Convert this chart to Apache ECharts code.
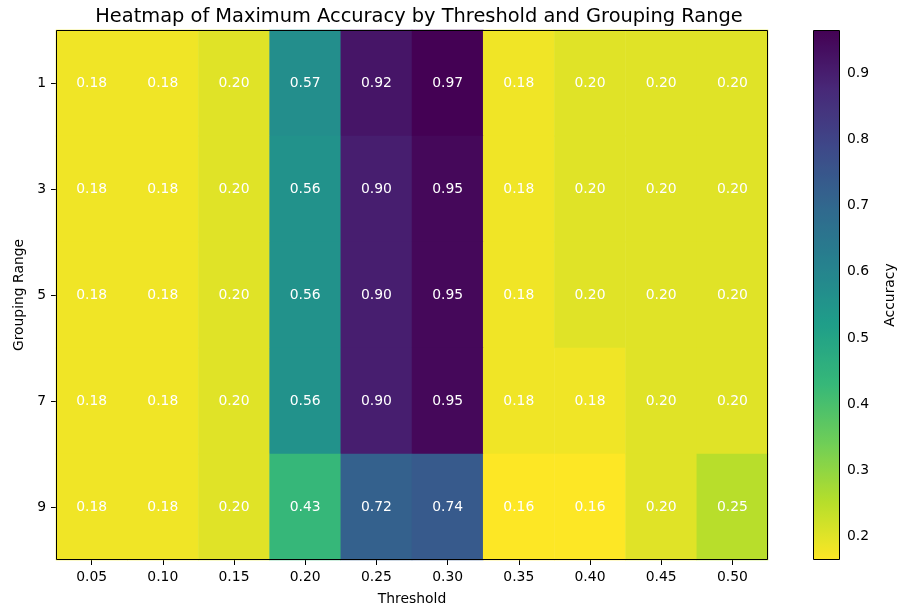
<!DOCTYPE html>
<html>
<head>
<meta charset="utf-8">
<script src="https://cdn.jsdelivr.net/npm/echarts@6/dist/echarts.min.js"></script>
<style>html,body{margin:0;padding:0;background:#fff}#c{width:898px;height:613px}</style>
</head>
<body>
<div id="c"></div>
<script>
const thresholds = ['0.05','0.10','0.15','0.20','0.25','0.30','0.35','0.40','0.45','0.50'];
const groupingRanges = ['1','3','5','7','9'];
const row1 = [0.18,0.18,0.20,0.57,0.92,0.966,0.18,0.20,0.20,0.20];
const row3 = [0.18,0.18,0.20,0.56,0.90,0.95,0.18,0.20,0.20,0.20];
const row5 = [0.18,0.18,0.20,0.56,0.90,0.95,0.18,0.20,0.20,0.20];
const row7 = [0.18,0.18,0.20,0.56,0.90,0.95,0.18,0.18,0.20,0.20];
const row9 = [0.18,0.18,0.20,0.43,0.72,0.74,0.164,0.164,0.20,0.25];
const colorbarTicks = [0.2,0.3,0.4,0.5,0.6,0.7,0.8,0.9];
const vmin = 0.164, vmax = 0.966;

const rows = [row1,row3,row5,row7,row9];
const data = [];
rows.forEach((r, yi) => r.forEach((v, xi) => data.push([xi, yi, v])));

const viridisR = ['#fde725','#b5de2b','#6ece58','#35b779','#1f9e89','#26828e','#31688e','#3e4989','#482878','#440154'];
const font = 'DejaVu Sans';
const chart = echarts.init(document.getElementById('c'), null, {renderer:'canvas'});
chart.setOption({
  animation: false,
  backgroundColor: '#fff',
  textStyle: {fontFamily: font},
  title: {
    text: 'Heatmap of Maximum Accuracy by Threshold and Grouping Range',
    left: 414, top: 2, textAlign: 'center',
    textStyle: {fontFamily: font, fontSize: 19.4, fontWeight: 'normal', color: '#000'}
  },
  grid: [
    {left: 56, top: 30, width: 712, height: 530, show: false},
    {left: 813, top: 30, width: 27, height: 530, show: false}
  ],
  xAxis: [
    {
      type: 'category', data: thresholds, gridIndex: 0,
      name: 'Threshold', nameLocation: 'middle', nameGap: 32,
      nameTextStyle: {fontFamily: font, fontSize: 13.9, color: '#000'},
      axisLine: {show: false},
      axisTick: {show: true, alignWithLabel: true, length: 5, lineStyle: {color: '#000'}},
      axisLabel: {fontFamily: font, fontSize: 13.9, color: '#000', margin: 10},
      splitLine: {show: false}
    },
    {type: 'value', gridIndex: 1, show: false, min: 0, max: 1}
  ],
  yAxis: [
    {
      type: 'category', data: groupingRanges, gridIndex: 0, inverse: true,
      name: 'Grouping Range', nameLocation: 'middle', nameGap: 30, nameRotate: 90,
      nameTextStyle: {fontFamily: font, fontSize: 13.9, color: '#000'},
      axisLine: {show: false},
      axisTick: {show: true, alignWithLabel: true, length: 5, lineStyle: {color: '#000'}},
      axisLabel: {fontFamily: font, fontSize: 13.9, color: '#000', margin: 10},
      splitLine: {show: false}
    },
    {
      type: 'value', gridIndex: 1, position: 'right', min: vmin, max: vmax,
      name: 'Accuracy', nameLocation: 'middle', nameGap: 44, nameRotate: 90,
      nameTextStyle: {fontFamily: font, fontSize: 13.9, color: '#000'},
      axisLine: {show: false},
      axisTick: {show: true, length: 5, lineStyle: {color: '#000'}, customValues: colorbarTicks},
      axisLabel: {fontFamily: font, fontSize: 13.9, color: '#000', margin: 8, customValues: colorbarTicks,
        formatter: v => v.toFixed(1)},
      splitLine: {show: false}
    }
  ],
  visualMap: {
    type: 'continuous', min: vmin, max: vmax, seriesIndex: 0,
    calculable: false, showLabel: false, text: null,
    left: 813, top: 30, itemWidth: 27, itemHeight: 530, padding: 0,
    inRange: {color: viridisR}
  },
  graphic: [
    {type: 'rect', shape: {x: 56.5, y: 30.5, width: 711, height: 529}, style: {fill: 'none', stroke: '#000', lineWidth: 1}, z: 100, silent: true},
    {type: 'rect', shape: {x: 813.5, y: 30.5, width: 26, height: 529}, style: {fill: 'none', stroke: '#000', lineWidth: 1}, z: 100, silent: true}
  ],
  series: [{
    type: 'heatmap', xAxisIndex: 0, yAxisIndex: 0, data: data,
    label: {show: true, color: '#fff', fontFamily: font, fontSize: 13.9,
      formatter: p => p.value[2].toFixed(2)},
    itemStyle: {borderWidth: 0},
    emphasis: {disabled: true}
  }]
});
</script>
</body>
</html>
